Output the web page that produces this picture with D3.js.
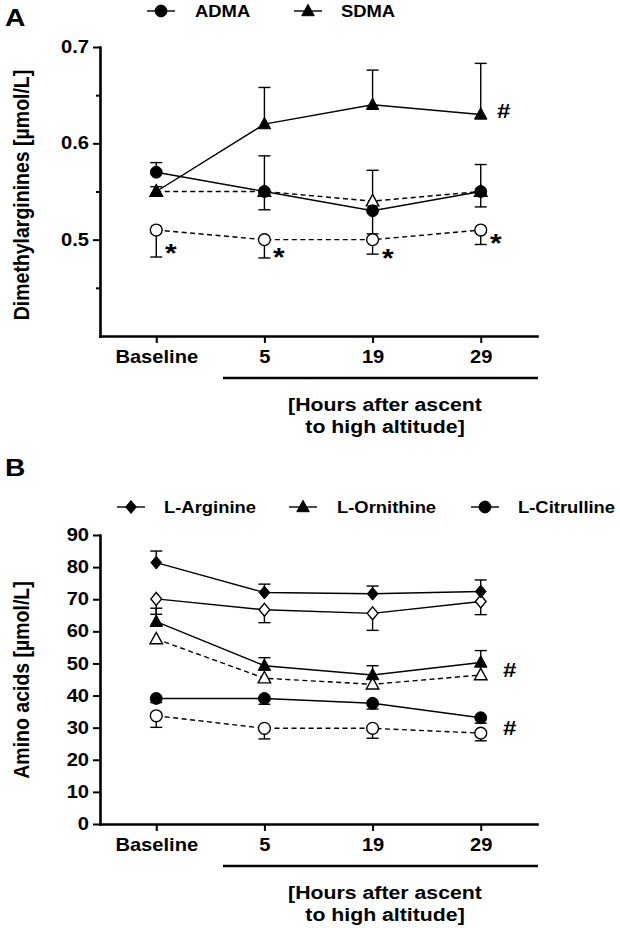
<!DOCTYPE html>
<html><head><meta charset="utf-8">
<script src="https://cdn.jsdelivr.net/npm/d3@7"></script>
<style>
body{margin:0;background:#fff}
svg{display:block}
text{font-family:"Liberation Sans",Arial,Helvetica,sans-serif;font-weight:bold;fill:#000}
</style>
</head><body>
<svg id="c" width="620" height="928"></svg>
<script>
// ---------- DATA ----------
const categories = ["Baseline", "5", "19", "29"];

// Panel A: dimethylarginines (µmol/L)
const yTicksA = [0.5, 0.6, 0.7];
const yMinorA = [0.45, 0.55, 0.65];
const admaFilled   = [0.57, 0.55, 0.53, 0.55];
const admaFilledUp = [0.010, 0.037, 0.000, 0.028];
const admaFilledDn = [0.000, 0.019, 0.024, 0.016];
const sdmaFilled   = [0.55, 0.62, 0.64, 0.63];
const sdmaFilledUp = [0.005, 0.038, 0.036, 0.053];
const sdmaFilledDn = [0.005, 0.000, 0.000, 0.000];
const admaOpen     = [0.51, 0.50, 0.50, 0.51];
const admaOpenUp   = [0, 0, 0, 0];
const admaOpenDn   = [0.028, 0.019, 0.015, 0.015];
const sdmaOpen     = [0.55, 0.55, 0.54, 0.55];
const sdmaOpenUp   = [0.000, 0.000, 0.032, 0.000];
const sdmaOpenDn   = [0.005, 0.000, 0.000, 0.000];

// Panel B: amino acids (µmol/L)
const yTicksB = [0, 10, 20, 30, 40, 50, 60, 70, 80, 90];
const argFilled   = [81.4, 72.1, 71.7, 72.4];
const argFilledUp = [3.6, 2.6, 2.4, 3.6];
const argOpen     = [70.1, 66.7, 65.6, 69.3];
const argOpenDn   = [4.8, 4.0, 5.3, 4.1];
const ornFilled   = [63.0, 49.3, 46.4, 50.3];
const ornFilledUp = [4.2, 2.5, 2.9, 3.7];
const ornOpen     = [57.6, 45.4, 43.5, 46.4];
const citFilled   = [39.1, 39.1, 37.6, 33.1];
const citFilledDn = [1.3, 1.8, 1.8, 1.7];
const citOpen     = [33.7, 29.8, 29.8, 28.3];
const citOpenDn   = [3.6, 3.3, 3.1, 2.4];
const zeros = [0, 0, 0, 0];

const legendA = ["ADMA", "SDMA"];
const legendB = ["L-Arginine", "L-Ornithine", "L-Citrulline"];
const xTitle = ["[Hours after ascent", "to high altitude]"];

// ---------- DRAWING ----------
const SX = 1.15;
const svg = d3.select("#c");

const triType = {draw(ctx, size){const h=Math.sqrt(size);
  ctx.moveTo(0,-0.6*h); ctx.lineTo(0.56*h,0.42*h); ctx.lineTo(-0.56*h,0.42*h); ctx.closePath();}};
const diaType = {draw(ctx, size){const h=Math.sqrt(size);
  ctx.moveTo(0,-0.6*h); ctx.lineTo(0.5*h,0); ctx.lineTo(0,0.6*h); ctx.lineTo(-0.5*h,0); ctx.closePath();}};
const shapes = {
  circle: d3.symbol().type(d3.symbolCircle).size(110),
  triangle: d3.symbol().type(triType).size(125),
  diamond: d3.symbol().type(diaType).size(115)
};

function T(sel, x, y, str, size, anchor){
  return sel.append("text")
    .attr("transform", `translate(${x},${y}) scale(${SX},1)`)
    .attr("font-size", size)
    .attr("text-anchor", anchor || "start")
    .text(str);
}

function marker(g, cx, cy, shape, filled){
  g.append("path").attr("d", shapes[shape]())
    .attr("transform", `translate(${cx},${cy})`)
    .attr("fill", filled ? "#000" : "#fff")
    .attr("stroke", "#000").attr("stroke-width", filled ? 1 : 1.4);
}

function panel(o){
  const g = svg.append("g");
  const x = d3.scalePoint().domain(categories).range([100, 537]).padding(0.52);
  const y = d3.scaleLinear().domain(o.domain).range([o.bottom, o.top]);
  const line = d3.line().x((d, i) => x(categories[i])).y(d => y(d));

  o.series.forEach(s => {
    g.append("path").attr("d", line(s.vals)).attr("fill", "none")
      .attr("stroke", "#000").attr("stroke-width", 1.4)
      .attr("stroke-dasharray", s.dashed ? "5,3.5" : null);
  });
  const cap = 6;
  o.series.forEach(s => {
    s.vals.forEach((v, i) => {
      const cx = x(categories[i]);
      [[s.up[i], 1], [s.dn[i], -1]].forEach(([e, dir]) => {
        if (e > 0) {
          const ye = y(v + dir * e);
          g.append("line").attr("x1", cx).attr("x2", cx).attr("y1", y(v)).attr("y2", ye)
            .attr("stroke", "#000").attr("stroke-width", 1.4);
          g.append("line").attr("x1", cx - cap).attr("x2", cx + cap).attr("y1", ye).attr("y2", ye)
            .attr("stroke", "#000").attr("stroke-width", 1.4);
        }
      });
    });
  });
  o.series.forEach(s => {
    s.vals.forEach((v, i) => marker(g, x(categories[i]), y(v), s.shape, s.filled));
  });

  // axes
  const fontAxis = g2 => g2.attr("font-family", "Liberation Sans, Arial, sans-serif")
    .attr("font-size", 17.5).attr("font-weight", "bold");
  const ay = g.append("g").attr("transform", "translate(100,0)")
    .call(d3.axisLeft(y).tickValues(o.ticks).tickFormat(o.fmt).tickSize(7).tickPadding(4).tickSizeOuter(0))
    .call(fontAxis);
  ay.select(".domain").attr("stroke-width", 2.6).attr("stroke-linecap", "square");
  ay.selectAll(".tick line").attr("stroke-width", 2);
  ay.selectAll(".tick text").attr("x", -11 / SX).attr("transform", `scale(${SX},1)`).attr("fill", "#000");
  if (o.minor) {
    const am = g.append("g").attr("transform", "translate(100,0)")
      .call(d3.axisLeft(y).tickValues(o.minor).tickFormat("").tickSize(4).tickSizeOuter(0));
    am.select(".domain").remove();
    am.selectAll(".tick line").attr("stroke-width", 2);
  }
  const ax = g.append("g").attr("transform", `translate(0,${o.bottom})`)
    .call(d3.axisBottom(x).tickSize(7).tickPadding(8).tickSizeOuter(0))
    .call(fontAxis);
  ax.select(".domain").attr("stroke-width", 2.6).attr("stroke-linecap", "square");
  ax.selectAll(".tick line").attr("stroke-width", 2);
  ax.selectAll(".tick text").attr("transform", `scale(${SX},1)`).attr("fill", "#000");

  // bracket line + title
  g.append("line").attr("x1", 223).attr("x2", 538).attr("y1", o.bottom + 42).attr("y2", o.bottom + 42)
    .attr("stroke", "#000").attr("stroke-width", 2.6);
  T(g, 385, o.bottom + 75, xTitle[0], 18.5, "middle");
  T(g, 385, o.bottom + 97, xTitle[1], 18.5, "middle");

  // y label
  g.append("text")
    .attr("transform", `translate(21,${o.ylabelY}) rotate(-90) scale(1,${SX})`)
    .attr("font-size", 19.5).attr("text-anchor", "middle").attr("dy", "0.35em")
    .text(o.ylabel);

  // panel letter
  T(g, 5, o.letterY, o.letter, 24.5);

  // legend
  o.legend.forEach((L, i) => {
    g.append("line").attr("x1", L.cx - 14).attr("x2", L.cx + 14).attr("y1", o.legendY).attr("y2", o.legendY)
      .attr("stroke", "#000").attr("stroke-width", 1.4);
    marker(g, L.cx, o.legendY, L.shape, true);
    T(g, L.tx, o.legendY + 5.8, L.name, 16);
  });

  // annotations
  o.notes.forEach(n => T(g, n.x, n.cy + n.size * n.off, n.t, n.size));
  return {x, y};
}

panel({
  letter: "A", letterY: 26,
  domain: [0.4, 0.7], top: 47, bottom: 336,
  ticks: yTicksA, minor: yMinorA, fmt: d3.format(".1f"),
  ylabel: "Dimethylarginines [µmol/L]", ylabelY: 195,
  series: [
    {vals: admaOpen, up: admaOpenUp, dn: admaOpenDn, shape: "circle", filled: false, dashed: true},
    {vals: sdmaOpen, up: sdmaOpenUp, dn: sdmaOpenDn, shape: "triangle", filled: false, dashed: true},
    {vals: sdmaFilled, up: sdmaFilledUp, dn: sdmaFilledDn, shape: "triangle", filled: true, dashed: false},
    {vals: admaFilled, up: admaFilledUp, dn: admaFilledDn, shape: "circle", filled: true, dashed: false}
  ],
  legendY: 11,
  legend: [
    {name: legendA[0], shape: "circle", cx: 161, tx: 195},
    {name: legendA[1], shape: "triangle", cx: 308, tx: 341}
  ],
  notes: [
    {t: "#", x: 497, cy: 110, size: 21, off: 0.36},
    {t: "*", x: 165, cy: 248, size: 26, off: 0.55},
    {t: "*", x: 273, cy: 252, size: 26, off: 0.55},
    {t: "*", x: 382, cy: 253, size: 26, off: 0.55},
    {t: "*", x: 490, cy: 238, size: 26, off: 0.55}
  ]
});

panel({
  letter: "B", letterY: 476,
  domain: [0, 90], top: 535, bottom: 824,
  ticks: yTicksB, minor: null, fmt: d3.format("d"),
  ylabel: "Amino acids [µmol/L]", ylabelY: 680,
  series: [
    {vals: citOpen, up: zeros, dn: citOpenDn, shape: "circle", filled: false, dashed: true},
    {vals: ornOpen, up: zeros, dn: zeros, shape: "triangle", filled: false, dashed: true},
    {vals: argOpen, up: zeros, dn: argOpenDn, shape: "diamond", filled: false, dashed: false},
    {vals: citFilled, up: zeros, dn: citFilledDn, shape: "circle", filled: true, dashed: false},
    {vals: ornFilled, up: ornFilledUp, dn: zeros, shape: "triangle", filled: true, dashed: false},
    {vals: argFilled, up: argFilledUp, dn: zeros, shape: "diamond", filled: true, dashed: false}
  ],
  legendY: 507,
  legend: [
    {name: legendB[0], shape: "diamond", cx: 131, tx: 164},
    {name: legendB[1], shape: "triangle", cx: 303, tx: 337},
    {name: legendB[2], shape: "circle", cx: 485, tx: 518}
  ],
  notes: [
    {t: "#", x: 503, cy: 669, size: 21, off: 0.36},
    {t: "#", x: 503, cy: 727, size: 21, off: 0.36}
  ]
});
</script>
</body></html>
